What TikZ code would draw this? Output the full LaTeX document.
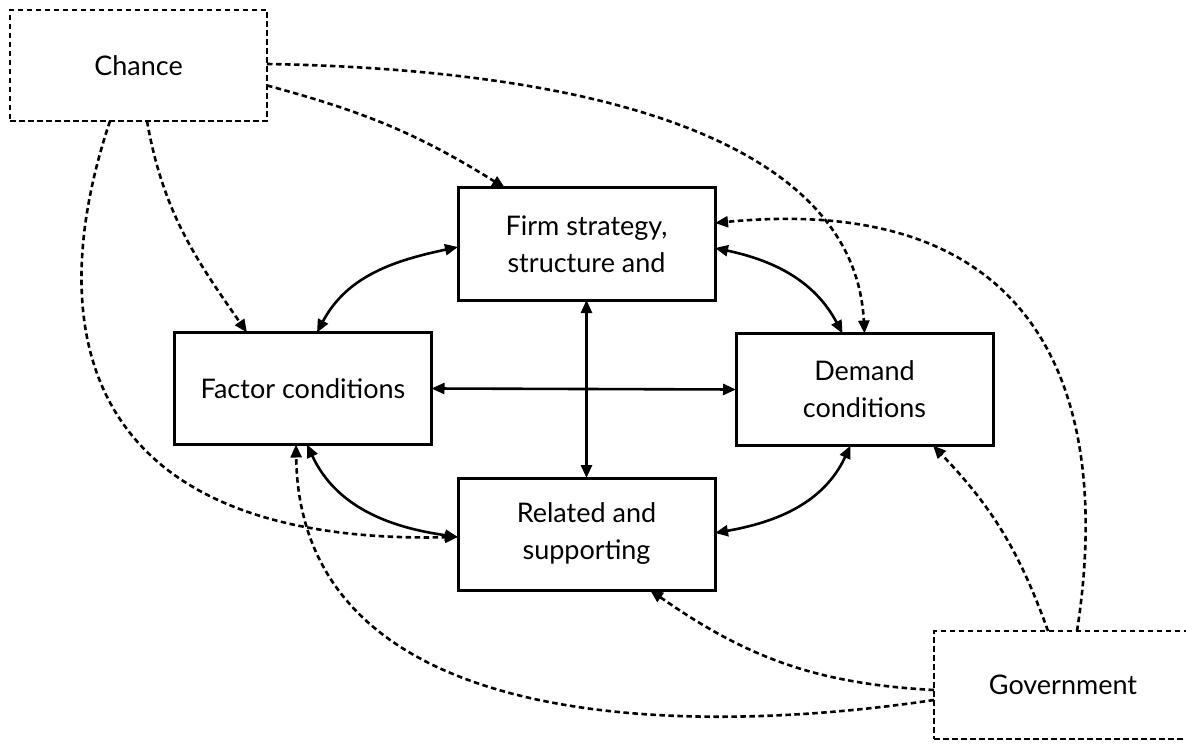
\documentclass[tikz,border=0pt]{standalone}
\usepackage{fontspec}
\setmainfont{Lato}
\usetikzlibrary{arrows.meta}
\begin{document}
\begin{tikzpicture}[x=1pt,y=1pt,
  box/.style={draw=black,line width=3pt,rectangle,minimum width=257pt,minimum height=112pt,align=center,font=\fontsize{27}{37}\selectfont,inner sep=0pt,outer sep=0pt},
  dbox/.style={box,line width=2.8pt,dash pattern=on 5.5pt off 3.5pt},
  tip/.tip={Triangle[length=13pt,width=11pt]},
  sarrow/.style={line width=2.6pt,tip-tip},
  darrow/.style={line width=2.6pt,dash pattern=on 5.5pt off 3.5pt,-tip}
]
\useasboundingbox (0,0) rectangle (1186,-746);
\node[box] (firm) at (586.5,-244) {Firm strategy,\\structure and};
\node[box] (factor) at (303,-388.5) {Factor conditions};
\node[box] (demand) at (864.5,-389.5) {Demand\\conditions};
\node[box] (related) at (586.5,-534) {Related and\\supporting};
\node[dbox,minimum height=111pt] (chance) at (138.5,-65.5) {Chance};
\node[dbox,minimum width=258pt,minimum height=108pt] (gov) at (1063,-685) {Government};
% solid connectors
\draw[sarrow] ([xshift=14pt]factor.north) to[out=62,in=192] ([yshift=-3pt]firm.west);
\draw[sarrow] ([yshift=-4pt]firm.east) to[out=-12,in=118] ([xshift=-22pt]demand.north);
\draw[sarrow] (factor.east) -- (demand.west);
\draw[sarrow] (firm.south) -- (related.south |- related.north);
\draw[sarrow] ([xshift=4pt]factor.south) to[out=-65,in=172] ([yshift=-3pt]related.west);
\draw[sarrow] ([yshift=1pt]related.east) to[out=10,in=-115] ([xshift=-14pt]demand.south);
% dashed from Chance
\draw[darrow] ([yshift=-20pt]chance.east) to[out=-15,in=148] ([xshift=-81.5pt]firm.north);
\draw[darrow] ([yshift=1.5pt]chance.east) .. controls (620,-70) and (855,-150) .. (demand.north);
\draw[darrow] ([xshift=8.5pt]chance.south) to[out=-80,in=125] ([xshift=-56pt]factor.north);
\draw[darrow] ([xshift=-28.5pt]chance.south) .. controls (40,-330) and (80,-545) .. ([yshift=-3pt]related.west);
% dashed from Government
\draw[darrow] ([xshift=14pt]gov.north) .. controls (1110,-420) and (1060,-190) .. ([yshift=21pt]firm.east);
\draw[darrow] ([xshift=-15pt]gov.north) to[bend right=12] ([xshift=68.5pt]demand.south);
\draw[darrow] ([yshift=-5pt]gov.west) to[out=177,in=-35] ([xshift=63.5pt]related.south);
\draw[darrow] ([yshift=-15pt]gov.west) .. controls (700,-735) and (300,-740) .. ([xshift=-7pt]factor.south);
\end{tikzpicture}
\end{document}
